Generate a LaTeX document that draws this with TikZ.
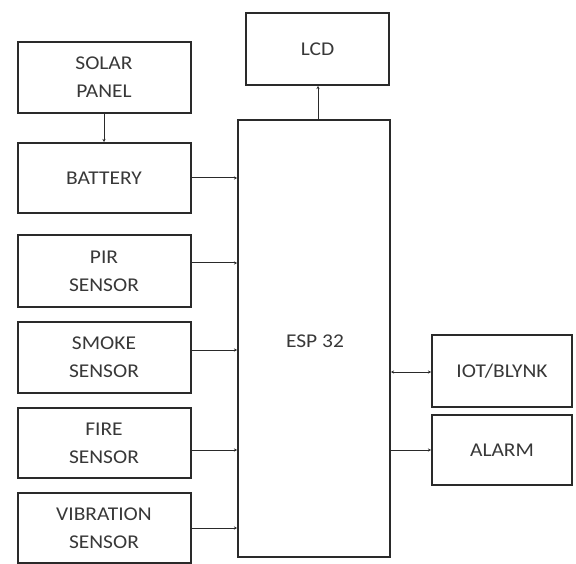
\documentclass[tikz,border=0pt]{standalone}
\usepackage{fontspec}
\setmainfont{Carlito}[FakeStretch=1.1]
\usetikzlibrary{arrows.meta}
\definecolor{txt}{HTML}{383838}
\definecolor{ln}{HTML}{2A2A2A}
\tikzset{
  blk/.style={draw=ln, line width=2pt, rectangle, inner sep=0pt, align=center,
    text=txt, font=\fontsize{19.5}{28}\selectfont},
  conn/.style={draw=ln, line width=1pt, -{Stealth[length=3pt,width=3pt]}},
  conn2/.style={draw=ln, line width=1pt, {Stealth[length=3pt,width=3pt]}-{Stealth[length=3pt,width=3pt]}},
}
\begin{document}
\begin{tikzpicture}[x=1pt,y=-1pt]
\useasboundingbox (0,0) rectangle (576,564);
\fill[white] (0,0) rectangle (576,564);
% boxes (centre, size from pixel extents)
\node[blk, minimum width=173pt, minimum height=71pt] (solar) at (104,77.5) {SOLAR\\PANEL};
\node[blk, minimum width=173pt, minimum height=70pt] (batt) at (104,178) {BATTERY};
\node[blk, minimum width=173pt, minimum height=72pt] (pir) at (104,271) {PIR\\SENSOR};
\node[blk, minimum width=173pt, minimum height=71pt] (smoke) at (104,357.5) {SMOKE\\SENSOR};
\node[blk, minimum width=173pt, minimum height=70pt] (fire) at (104,443) {FIRE\\SENSOR};
\node[blk, minimum width=173pt, minimum height=70pt] (vib) at (104,528) {VIBRATION\\SENSOR};
\node[blk, minimum width=143pt, minimum height=72pt] (lcd) at (317.5,49) {LCD};
\node[blk, minimum width=152pt, minimum height=437pt] (esp) at (314,338.5) {};
\node[text=txt, font=\fontsize{19.5}{28}\selectfont] (esplabel) at (315,341) {ESP 32};
\node[blk, minimum width=140pt, minimum height=72pt] (iot) at (502,371) {IOT/BLYNK};
\node[blk, minimum width=140pt, minimum height=70pt] (alarm) at (502,450) {ALARM};
% connectors
\draw[conn] (solar.south) -- (batt.north);
\draw[conn] (batt.east) -- (esp.west |- batt.east);
\coordinate (cp) at (0,263);
\coordinate (cs) at (0,350);
\coordinate (cf) at (0,450);
\coordinate (cv) at (0,528);
\coordinate (cl) at (318,0);
\coordinate (ci) at (0,372);
\coordinate (ca) at (0,450);
\draw[conn] (pir.east |- cp) -- (esp.west |- cp);
\draw[conn] (smoke.east |- cs) -- (esp.west |- cs);
\draw[conn] (fire.east |- cf) -- (esp.west |- cf);
\draw[conn] (vib.east |- cv) -- (esp.west |- cv);
\draw[conn] (esp.north -| cl) -- (lcd.south -| cl);
\draw[conn2] (esp.east |- ci) -- (iot.west |- ci);
\draw[conn] (esp.east |- ca) -- (alarm.west |- ca);
\end{tikzpicture}
\end{document}
